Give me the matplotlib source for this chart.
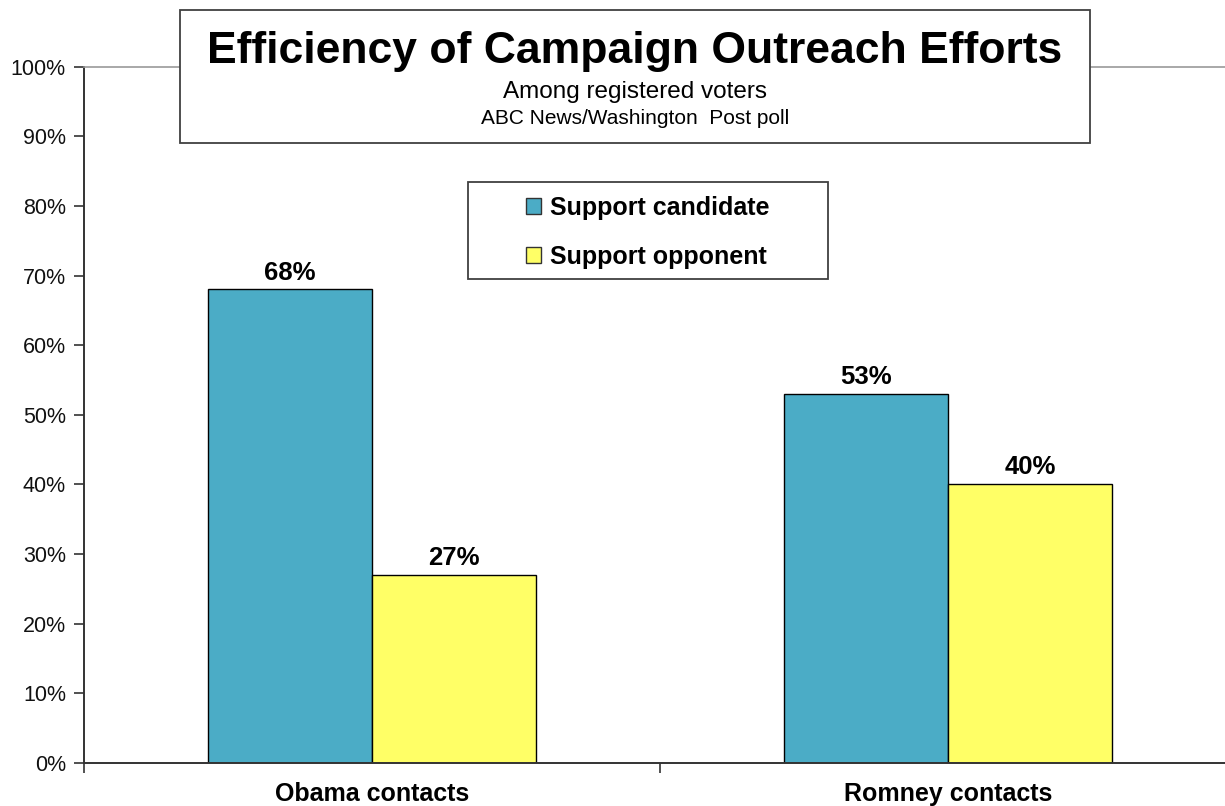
import numpy as np
import matplotlib.pyplot as plt
from matplotlib.patches import Rectangle, Patch

plt.rcParams['font.family'] = ['Liberation Sans', 'DejaVu Sans']

categories = ['Obama contacts', 'Romney contacts']
series_names = ['Support candidate', 'Support opponent']
support_candidate = [68, 53]
support_opponent = [27, 40]
y_ticks = [0, 10, 20, 30, 40, 50, 60, 70, 80, 90, 100]

colors = ['#4BACC6', '#FFFF66']

W, H = 1225, 806
fig = plt.figure(figsize=(W / 100, H / 100), dpi=100)


def px(x0, y0, x1, y1):
    # pixel box (top-left origin) -> figure coords [l, b, w, h]
    return [x0 / W, 1 - y1 / H, (x1 - x0) / W, (y1 - y0) / H]


ax = fig.add_axes(px(84, 66.7, 1236, 762.7))

x = np.arange(len(categories))
width = 0.285
b1 = ax.bar(x - width / 2, support_candidate, width, color=colors[0],
            edgecolor='black', linewidth=1.0, label=series_names[0])
b2 = ax.bar(x + width / 2, support_opponent, width, color=colors[1],
            edgecolor='black', linewidth=1.0, label=series_names[1])
for bars in (b1, b2):
    ax.bar_label(bars, labels=[f'{v}%' for v in bars.datavalues], padding=3.5,
                 fontsize=18.5, fontweight='bold')

ax.set_xlim(-0.5, 1.5)
ax.set_ylim(0, 100)
ax.set_yticks(y_ticks)
ax.set_yticklabels([f'{t}%' for t in y_ticks])
ax.tick_params(axis='y', direction='out', length=7, width=1.2, pad=6,
               labelsize=15.5, colors='#333333', labelcolor='#111111')

# category labels on minor ticks, separators on major ticks
ax.set_xticks([-0.5, 0.5, 1.5])
ax.set_xticklabels([])
ax.tick_params(axis='x', which='major', direction='out', length=7, width=1.2,
               colors='#333333')
ax.set_xticks(x, minor=True)
ax.set_xticklabels(categories, minor=True, fontsize=18, fontweight='bold')
ax.tick_params(axis='x', which='minor', length=0, pad=14)

ax.spines['left'].set_color('#333333')
ax.spines['left'].set_linewidth(1.4)
ax.spines['bottom'].set_color('#333333')
ax.spines['bottom'].set_linewidth(1.4)
ax.spines['top'].set_color('#999999')
ax.spines['top'].set_linewidth(1.2)
ax.spines['right'].set_visible(False)

# title box
fig.patches.append(Rectangle(px(180, 10, 1090, 143)[:2], 910 / W, 133 / H,
                             transform=fig.transFigure, facecolor='white',
                             edgecolor='#404040', linewidth=1.3, zorder=3))
cx = 635 / W
fig.text(cx, 1 - 63 / H, 'Efficiency of Campaign Outreach Efforts',
         ha='center', va='baseline', fontsize=32, fontweight='bold', zorder=4)
fig.text(cx, 1 - 98 / H, 'Among registered voters',
         ha='center', va='baseline', fontsize=17.5, zorder=4)
fig.text(cx, 1 - 124 / H, 'ABC News/Washington  Post poll',
         ha='center', va='baseline', fontsize=15, zorder=4)

# legend box
fig.patches.append(Rectangle(px(468, 182, 828, 279)[:2], 360 / W, 97 / H,
                             transform=fig.transFigure, facecolor='white',
                             edgecolor='#404040', linewidth=1.3, zorder=3))
handles = [Patch(facecolor=c, edgecolor='#333333', linewidth=1.0) for c in colors]
leg = fig.legend(handles, series_names, loc='center',
                 bbox_to_anchor=(648 / W, 1 - 232.5 / H), frameon=False,
                 prop={'size': 18, 'weight': 'bold'}, handlelength=0.6,
                 handleheight=0.6, handletextpad=0.35, labelspacing=1.0,
                 borderpad=0)
leg.set_zorder(5)

fig.savefig('out.png', dpi=100)
